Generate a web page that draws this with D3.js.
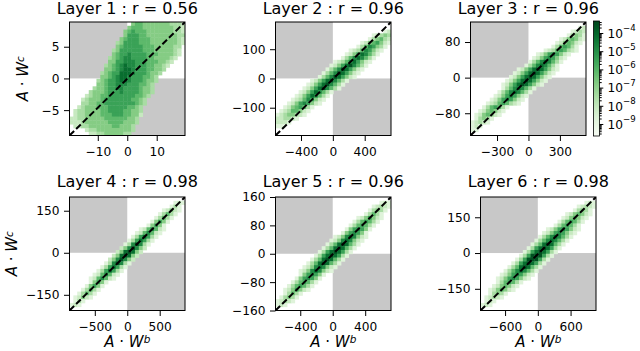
<!DOCTYPE html>
<html lang="en">
<head>
<meta charset="UTF-8">
<title>Layer correlations</title>
<script src="https://cdn.jsdelivr.net/npm/d3@7"></script>
<style>
body {
	margin: 0;
	background: #fff;
	font-family: "DejaVu Sans", sans-serif;
}
svg {
	display: block;
}
.tick text {
	font-size: 12.2px;
	fill: #000;
}
.tick line {
	stroke: #000;
}
</style>
</head>
<body>
<svg width="640" height="351"></svg>
<script>
var titles = ["Layer 1 : r = 0.56", "Layer 2 : r = 0.96", "Layer 3 : r = 0.96",
              "Layer 4 : r = 0.98", "Layer 5 : r = 0.96", "Layer 6 : r = 0.98"];
var xDomains = [[-19.6, 19.6], [-720, 730], [-553, 549], [-890, 890], [-705, 718], [-1050, 1066]];
var yDomains = [[-9, 8.9], [-195, 193], [-130, 125], [-206, 199], [-160, 160], [-241, 235]];
var xTicks = [[-10, 0, 10], [-400, 0, 400], [-300, 0, 300], [-500, 0, 500], [-400, 0, 400], [-600, 0, 600]];
var yTicks = [[-5, 0, 5], [-100, 0, 100], [-80, 0, 80], [-150, 0, 150], [-160, -80, 0, 80, 160], [-150, 0, 150]];
var cbarTicks = [1e-9, 1e-8, 1e-7, 1e-6, 1e-5, 1e-4];
var cbarLabels = ["\u22129", "\u22128", "\u22127", "\u22126", "\u22125", "\u22124"];
// density for each shade level 1..9 of the binned histograms
var levelDensity = [0, 1.8e-9, 7.9e-9, 3.5e-8, 1.6e-7, 7.1e-7, 3.2e-6, 1.4e-5, 6.3e-5, 2.8e-4];

// 30 x 30 bins, top row first: [first column, shade level per column]
var bins1 = [
	[16, "45544444443332"], [15, "455544444444332"], [14, "4565554444444332"], [14, "4666554444444433"],
	[13, "45666555444444432"], [12, "346666555444444432"], [12, "45666665554444433"], [11, "346666665554444432"],
	[11, "456676666555444432"], [10, "345677666655444432"], [10, "44667776665554432"], [9, "34567877666554432"],
	[9, "4456788766655443"], [8, "3456688876665443"], [8, "445678876665543"], [7, "3456678876665443"],
	[7, "445667776665543"], [6, "3445667766665443"], [5, "34445666766665443"], [4, "23445566666665543"],
	[3, "23444566666665543"], [3, "33445566666666543"], [2, "23444555666665543"], [1, "233444455666655443"],
	[1, "233444455566655442"], [0, "223344444555555443"], [0, "222344444455554443"], [1, "2233444444554443"],
	[4, "2334444444443"], [5, "22334444433"]
];
var bins2 = [
	[0, ""], [0, ""], [28, "12"], [25, "12343"], [24, "134532"], [22, "12456421"],
	[21, "13576431"], [19, "123576421"], [18, "124687531"], [17, "135787531"], [15, "1235786421"],
	[14, "1246897531"], [13, "1357986421"], [12, "1357986421"], [11, "1357986421"], [9, "1246897531"],
	[8, "1246897531"], [7, "1246897531"], [6, "124687531"], [5, "124687531"], [4, "123576421"],
	[3, "124676421"], [2, "12456531"], [1, "12355421"], [0, "12344321"], [0, "223321"],
	[0, "2221"], [0, "11"], [0, ""], [0, ""]
];
var bins3 = [
	[0, ""], [28, "12"], [26, "1232"], [25, "13431"], [23, "1245421"], [22, "1245421"],
	[21, "1356531"], [19, "123565321"], [17, "124676421"], [16, "124676421"], [15, "135787531"],
	[14, "135787531"], [12, "12468986421"], [11, "12468986421"], [10, "12468986421"], [9, "12468986421"],
	[8, "12468986421"], [8, "135787531"], [7, "135787531"], [6, "124676421"], [5, "124676421"],
	[4, "123565321"], [3, "1356531"], [2, "1245421"], [1, "1245421"], [1, "13431"],
	[0, "12321"], [0, "121"], [0, "11"], [0, ""]
];
var bins4 = [
	[0, ""], [27, "121"], [26, "131"], [24, "12421"], [23, "13531"], [22, "13531"],
	[21, "14641"], [20, "14641"], [18, "1257521"], [17, "1257521"], [16, "1368631"],
	[15, "1368631"], [14, "1379731"], [13, "2479742"], [12, "2489842"], [11, "2489842"],
	[10, "2479742"], [9, "1379731"], [8, "1368631"], [7, "1368631"], [6, "1257521"],
	[5, "1257521"], [5, "14641"], [4, "14641"], [3, "13531"], [2, "13531"],
	[1, "12421"], [1, "131"], [0, "121"], [0, ""]
];
var bins5 = [
	[0, ""], [27, "121"], [25, "12321"], [24, "13431"], [23, "13531"], [21, "1246421"],
	[20, "1356531"], [19, "1356531"], [18, "1467641"], [17, "1467641"], [15, "124787421"],
	[14, "124787421"], [13, "135898531"], [12, "135898531"], [11, "136898631"], [10, "136898631"],
	[9, "135898531"], [8, "135898531"], [7, "124787421"], [6, "124787421"], [6, "1467641"],
	[5, "1467641"], [4, "1356531"], [3, "1356531"], [2, "1246421"], [2, "13531"],
	[1, "13431"], [0, "12321"], [0, "121"], [0, ""]
];
var bins6 = [
	[0, ""], [27, "121"], [25, "12321"], [24, "13431"], [22, "1245421"], [21, "1245421"],
	[20, "1356531"], [19, "1356531"], [17, "124676421"], [16, "124676421"], [15, "135787531"],
	[14, "135787531"], [13, "135898531"], [12, "136898631"], [11, "136898631"], [10, "136999631"],
	[9, "136999631"], [8, "136898631"], [7, "135898531"], [6, "135787531"], [5, "124676421"],
	[4, "124676421"], [4, "1356531"], [3, "1245421"], [2, "1245421"], [2, "13431"],
	[1, "12321"], [1, "121"], [0, "121"], [0, ""]
];
var allBins = [bins1, bins2, bins3, bins4, bins5, bins6];

var svg = d3.select("svg");
var nb = 30;
var panelLeft = [69.5, 275.5, 470.5, 69.5, 275.5, 480.5],
	panelTop = [22, 22, 22, 197, 197, 197],
	titleY = [14, 14, 14, 187, 187, 187],
	pw = 115.5, ph = 113.5;

var color = d3.scaleSequentialLog(d3.interpolateGreens)
	.domain([Math.pow(10, -9.66), Math.pow(10, -3.34)]);

function mathLabel(sel, sup) {
	sel.append("tspan").attr("font-style", "italic").text("A");
	sel.append("tspan").text(" \u00b7 ");
	sel.append("tspan").attr("font-style", "italic").text("W");
	sel.append("tspan").attr("font-style", "italic").attr("font-size", "10.5px").attr("dy", "-4").text(sup);
}

for (var i = 0; i < 6; i++) {
	var xd = xDomains[i], yd = yDomains[i];
	var x = d3.scaleLinear().domain(xd).range([0, pw]);
	var y = d3.scaleLinear().domain(yd).range([ph, 0]);
	var g = svg.append("g").attr("transform", "translate(" + panelLeft[i] + "," + panelTop[i] + ")");

	g.append("clipPath").attr("id", "clip" + i)
		.append("rect").attr("width", pw).attr("height", ph);
	var plot = g.append("g").attr("clip-path", "url(#clip" + i + ")");

	// grey quadrants where the two signs disagree
	plot.append("rect")
		.attr("x", x(xd[0])).attr("y", y(yd[1]))
		.attr("width", x(0) - x(xd[0])).attr("height", y(0) - y(yd[1]))
		.attr("fill", "#c8c8c8");
	plot.append("rect")
		.attr("x", x(0)).attr("y", y(0))
		.attr("width", x(xd[1]) - x(0)).attr("height", y(yd[0]) - y(0))
		.attr("fill", "#c8c8c8");

	var cells = [];
	allBins[i].forEach(function(row, r) {
		row[1].split("").forEach(function(ch, k) {
			var lv = +ch;
			if (!lv) return;
			var j = row[0] + k;
			cells.push({
				x0: xd[0] + (xd[1] - xd[0]) * j / nb,
				x1: xd[0] + (xd[1] - xd[0]) * (j + 1) / nb,
				y0: yd[1] - (yd[1] - yd[0]) * (r + 1) / nb,
				y1: yd[1] - (yd[1] - yd[0]) * r / nb,
				v: levelDensity[lv]
			});
		});
	});
	plot.selectAll(".cell").data(cells).enter().append("rect")
		.attr("class", "cell")
		.attr("x", function(d) { return x(d.x0); })
		.attr("y", function(d) { return y(d.y1); })
		.attr("width", function(d) { return x(d.x1) - x(d.x0) + 0.4; })
		.attr("height", function(d) { return y(d.y0) - y(d.y1) + 0.4; })
		.attr("fill", function(d) { return color(d.v); });

	plot.append("line")
		.attr("x1", x(xd[0])).attr("y1", y(yd[0]))
		.attr("x2", x(xd[1])).attr("y2", y(yd[1]))
		.attr("stroke", "#000")
		.attr("stroke-width", 2)
		.attr("stroke-dasharray", "6.5,2.8");

	g.append("rect")
		.attr("width", pw).attr("height", ph)
		.attr("fill", "none").attr("stroke", "#000").attr("stroke-width", 1);

	var ax = g.append("g").attr("transform", "translate(0," + ph + ")")
		.call(d3.axisBottom(x).tickValues(xTicks[i]).tickSize(5.5).tickPadding(6));
	var ay = g.append("g")
		.call(d3.axisLeft(y).tickValues(yTicks[i]).tickSize(5.5).tickPadding(4.5));
	[ax, ay].forEach(function(a) {
		a.attr("font-size", null).attr("font-family", null);
		a.select(".domain").remove();
	});

	svg.append("text")
		.attr("x", panelLeft[i] + pw / 2).attr("y", titleY[i])
		.attr("text-anchor", "middle")
		.attr("font-size", "16px")
		.text(titles[i]);

	if (i >= 3) {
		mathLabel(svg.append("text")
			.attr("x", panelLeft[i] + pw / 2).attr("y", 347.4)
			.attr("text-anchor", "middle")
			.attr("font-size", "15px"), "b");
	}
	if (i == 0 || i == 3) {
		var lx = i == 0 ? 28 : 17;
		mathLabel(svg.append("text")
			.attr("transform", "translate(" + lx + "," + (panelTop[i] + ph / 2) + ") rotate(-90)")
			.attr("text-anchor", "middle")
			.attr("font-size", "15px"), "c");
	}
}

// colorbar
var cbX = 593.5, cbW = 6, cbTop = 21, cbBot = 136;
var cbScale = d3.scaleLog().domain(color.domain()).range([cbBot, cbTop]);
var grad = svg.append("defs").append("linearGradient")
	.attr("id", "cbgrad").attr("x1", 0).attr("y1", 1).attr("x2", 0).attr("y2", 0);
d3.range(0, 1.0001, 0.05).forEach(function(t) {
	grad.append("stop").attr("offset", t).attr("stop-color", d3.interpolateGreens(t));
});
svg.append("rect")
	.attr("x", cbX).attr("y", cbTop).attr("width", cbW).attr("height", cbBot - cbTop)
	.attr("fill", "url(#cbgrad)").attr("stroke", "#000").attr("stroke-width", 0.8);

var minor = [];
for (var e = -10; e <= -4; e++) {
	for (var m = 2; m <= 9; m++) {
		var v = m * Math.pow(10, e);
		if (v > color.domain()[0] && v < color.domain()[1]) minor.push(v);
	}
}
var cbg = svg.append("g").attr("transform", "translate(" + (cbX + cbW) + ",0)");
cbg.append("g").call(d3.axisRight(cbScale).tickValues(minor).tickSize(2.2).tickFormat(""))
	.select(".domain").remove();
cbg.append("g").call(d3.axisRight(cbScale).tickValues(cbarTicks).tickSize(3.8).tickFormat(""))
	.select(".domain").remove();
cbarTicks.forEach(function(v, k) {
	var t = cbg.append("text")
		.attr("x", 8).attr("y", cbScale(v)).attr("dy", "0.4em")
		.attr("font-size", "12.2px");
	t.append("tspan").text("10");
	t.append("tspan").attr("font-size", "8.6px").attr("dy", "-0.75em").text(cbarLabels[k]);
});
</script>
</body>
</html>
